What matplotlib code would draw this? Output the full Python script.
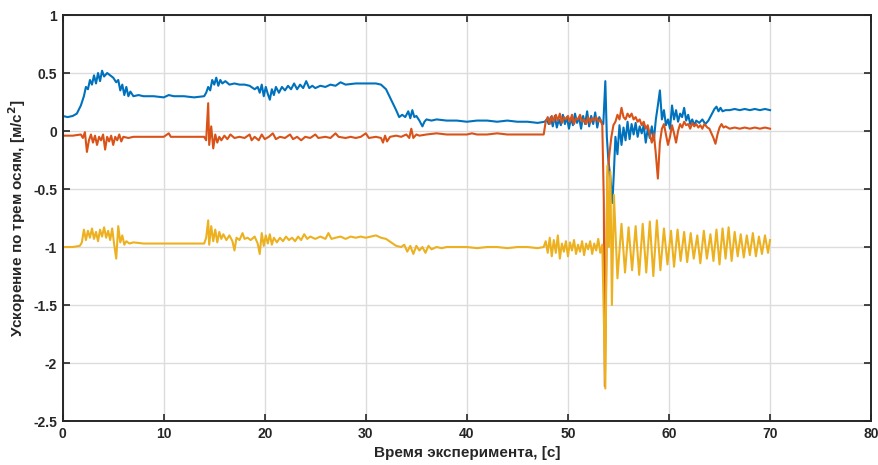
import numpy as np
import matplotlib
matplotlib.use('Agg')
from matplotlib import pyplot as plt

plt.rcParams['font.family'] = ['Liberation Sans', 'DejaVu Sans']
plt.rcParams['axes.unicode_minus'] = False

# Ось X (синяя)
t_x = [0.0, 0.5, 1.0, 1.4, 1.8, 2.1, 2.3, 2.5, 2.7, 2.9, 3.1, 3.3, 3.5, 3.7, 3.9,
       4.1, 4.4, 4.7, 5.0, 5.3, 5.5, 5.7, 5.9, 6.1, 6.3, 6.5, 6.7, 7.0, 7.5, 8.0,
       9.0, 10.0, 10.5, 11.0, 12.0, 13.0, 14.0, 14.2, 14.4, 14.6, 14.8, 15.0, 15.2,
       15.4, 15.6, 15.8, 16.1, 16.5, 17.0, 17.5, 18.0, 18.5, 19.0, 19.3, 19.5, 19.7,
       19.9, 20.1, 20.3, 20.5, 20.7, 20.9, 21.1, 21.4, 21.7, 22.0, 22.3, 22.6, 22.9,
       23.2, 23.5, 23.8, 24.1, 24.4, 24.7, 25.0, 25.5, 26.0, 26.5, 27.0, 27.5, 28.0,
       29.0, 30.0, 31.0, 31.5, 32.0, 32.5, 33.0, 33.3, 33.6, 33.9, 34.2, 34.4, 34.6,
       34.8, 35.0, 35.3, 35.6, 35.8, 36.0, 36.5, 37.0, 38.0, 39.0, 40.0, 41.0, 42.0,
       43.0, 44.0, 45.0, 46.0, 47.0, 47.7, 47.9, 48.1, 48.3, 48.5, 48.7, 48.9, 49.1,
       49.3, 49.5, 49.7, 49.9, 50.1, 50.3, 50.5, 50.7, 50.9, 51.1, 51.3, 51.5, 51.7,
       51.9, 52.1, 52.3, 52.5, 52.7, 52.9, 53.1, 53.3, 53.5, 53.7, 53.85, 54.0, 54.2,
       54.4, 54.55, 54.7, 54.9, 55.1, 55.3, 55.5, 55.7, 55.9, 56.1, 56.3, 56.5, 56.7,
       56.9, 57.1, 57.3, 57.5, 57.7, 57.9, 58.1, 58.3, 58.5, 58.7, 58.9, 59.1, 59.3,
       59.5, 59.7, 59.9, 60.1, 60.3, 60.5, 60.7, 60.9, 61.1, 61.3, 61.5, 61.7, 61.9,
       62.1, 62.3, 62.5, 62.7, 63.0, 63.3, 63.6, 63.9, 64.2, 64.5, 64.7, 64.9, 65.1,
       65.3, 65.6, 66.0, 66.5, 67.0, 67.5, 68.0, 68.5, 69.0, 69.5, 70.0]
acc_x = [0.13, 0.12, 0.13, 0.15, 0.22, 0.30, 0.38, 0.36, 0.44, 0.40, 0.48, 0.41, 0.50, 0.43, 0.52,
         0.47, 0.50, 0.48, 0.46, 0.42, 0.44, 0.35, 0.40, 0.31, 0.38, 0.30, 0.34, 0.30, 0.31, 0.30,
         0.30, 0.29, 0.31, 0.30, 0.30, 0.29, 0.30, 0.33, 0.38, 0.35, 0.44, 0.40, 0.46,
         0.39, 0.44, 0.41, 0.43, 0.40, 0.41, 0.40, 0.40, 0.39, 0.36, 0.38, 0.33, 0.40,
         0.30, 0.38, 0.32, 0.27, 0.36, 0.31, 0.38, 0.33, 0.38, 0.35, 0.39, 0.36, 0.41,
         0.36, 0.40, 0.37, 0.43, 0.37, 0.39, 0.37, 0.39, 0.38, 0.40, 0.39, 0.42, 0.40,
         0.41, 0.41, 0.41, 0.40, 0.36, 0.27, 0.18, 0.12, 0.14, 0.12, 0.17, 0.11, 0.18,
         0.12, 0.13, 0.09, 0.04, 0.08, 0.10, 0.09, 0.10, 0.09, 0.09, 0.08, 0.09, 0.09,
         0.08, 0.09, 0.08, 0.08, 0.07, 0.08, 0.10, 0.06, 0.12, 0.04, 0.13, 0.03, 0.10,
         0.05, 0.14, 0.06, 0.12, 0.02, 0.11, 0.05, 0.15, 0.07, 0.12, 0.02, 0.13, 0.06,
         0.17, 0.04, 0.13, 0.06, 0.16, 0.03, 0.12, 0.08, 0.06, 0.43, -0.05, -0.25, -0.40,
         -0.62, -0.35, -0.05, -0.20, 0.05, -0.12, 0.03, -0.08, 0.08, -0.07, 0.06, -0.03, 0.07,
         -0.05, 0.04, -0.02, 0.05, -0.10, 0.02, -0.06, 0.04, -0.08, 0.10, 0.22, 0.35, 0.10,
         0.18, 0.05, 0.10, 0.02, 0.22, 0.10, 0.18, 0.08, 0.15, 0.12, 0.20, 0.09, 0.14,
         0.06, 0.10, 0.05, 0.09, 0.07, 0.10, 0.06, 0.09, 0.14, 0.19, 0.21, 0.17, 0.20,
         0.17, 0.18, 0.18, 0.19, 0.18, 0.19, 0.18, 0.19, 0.18, 0.19, 0.18]

# Ось Y (оранжевая)
t_y = [0.0, 1.0, 1.8, 2.0, 2.2, 2.4, 2.6, 2.8, 3.0, 3.2, 3.4, 3.6, 3.8, 4.0, 4.2,
       4.4, 4.6, 4.8, 5.0, 5.2, 5.4, 5.6, 5.8, 6.0, 6.5, 7.0, 8.0, 9.0, 10.0, 10.5,
       10.7, 12.0, 13.0, 14.0, 14.2, 14.4, 14.5, 14.7, 14.9, 15.1, 15.3, 15.5, 15.7,
       16.0, 16.3, 16.6, 17.0, 17.5, 18.0, 18.5, 18.7, 19.0, 19.4, 19.7, 20.0, 20.4,
       20.8, 21.1, 21.5, 22.0, 22.5, 22.8, 23.2, 23.6, 24.0, 24.5, 25.0, 25.3, 26.0,
       26.5, 27.0, 27.3, 28.0, 28.5, 29.0, 29.5, 30.0, 30.3, 31.0, 31.5, 31.7, 31.9,
       32.1, 32.4, 33.0, 33.5, 34.0, 34.3, 34.5, 34.7, 35.0, 35.3, 36.0, 37.0, 38.0,
       39.0, 40.0, 40.5, 41.0, 42.0, 43.0, 44.0, 45.0, 46.0, 47.0, 47.6, 47.8, 48.0,
       48.2, 48.4, 48.6, 48.8, 49.0, 49.2, 49.4, 49.6, 49.8, 50.0, 50.2, 50.4, 50.6,
       50.8, 51.0, 51.2, 51.4, 51.6, 51.8, 52.0, 52.2, 52.4, 52.6, 52.8, 53.0, 53.2,
       53.4, 53.55, 53.65, 53.75, 53.9, 54.1, 54.3, 54.5, 54.7, 54.9, 55.1, 55.3, 55.5,
       55.7, 55.9, 56.1, 56.3, 56.5, 56.7, 56.9, 57.1, 57.3, 57.5, 57.7, 57.9, 58.1,
       58.3, 58.5, 58.7, 58.9, 59.1, 59.3, 59.5, 59.7, 59.9, 60.1, 60.3, 60.5, 60.7,
       60.9, 61.1, 61.3, 61.5, 61.7, 61.9, 62.1, 62.3, 62.5, 62.7, 62.9, 63.1, 63.3,
       63.5, 63.8, 64.0, 64.2, 64.4, 64.6, 64.8, 65.0, 65.2, 65.4, 65.6, 66.0, 66.5,
       67.0, 67.5, 68.0, 68.5, 69.0, 69.5, 70.0]
acc_y = [-0.04, -0.04, -0.03, -0.06, -0.01, -0.18, -0.08, -0.03, -0.10, -0.04, -0.12, -0.05, -0.08, -0.03, -0.16,
         -0.05, -0.09, -0.04, -0.12, -0.05, -0.08, -0.03, -0.09, -0.05, -0.06, -0.05, -0.05, -0.05, -0.05, -0.02,
         -0.05, -0.05, -0.05, -0.05, -0.08, 0.24, -0.12, 0.04, -0.15, -0.03, -0.10, -0.05, -0.08,
         -0.04, -0.07, -0.03, -0.06, -0.05, -0.06, -0.03, -0.08, -0.05, -0.08, -0.03, -0.07, -0.05,
         -0.02, -0.07, -0.05, -0.06, -0.03, -0.07, -0.05, -0.08, -0.05, -0.06, -0.03, -0.06, -0.05,
         -0.06, -0.02, -0.05, -0.06, -0.05, -0.06, -0.05, -0.02, -0.06, -0.05, -0.06, -0.10, -0.04,
         -0.09, -0.05, -0.04, -0.05, -0.03, -0.06, 0.02, -0.06, -0.03, -0.04, -0.03, -0.02, -0.03,
         -0.03, -0.03, -0.02, -0.03, -0.03, -0.02, -0.03, -0.03, -0.03, -0.03, -0.03, 0.08, 0.12,
         0.06, 0.13, 0.08, 0.14, 0.09, 0.15, 0.07, 0.12, 0.10, 0.13, 0.08, 0.14, 0.06,
         0.11, 0.10, 0.14, 0.08, 0.10, 0.06, 0.12, 0.07, 0.11, 0.09, 0.12, 0.08, 0.10,
         0.05, -0.60, -2.20, -1.50, -0.40, -0.20, -0.05, 0.05, 0.08, 0.14, 0.10, 0.20, 0.12,
         0.10, 0.15, 0.12, 0.15, 0.10, 0.12, 0.08, 0.10, 0.05, 0.08, 0.02, 0.05, -0.03,
         -0.10, -0.02, -0.20, -0.41, -0.10, 0.02, 0.06, -0.03, -0.12, -0.05, 0.05, -0.02, -0.10,
         0.00, 0.06, 0.03, 0.08, 0.05, 0.06, 0.02, 0.07, 0.04, 0.06, 0.03, 0.05, 0.02,
         0.06, 0.03, 0.02, -0.02, -0.06, -0.11, -0.03, 0.03, 0.06, 0.03, 0.04, 0.02, 0.03,
         0.02, 0.03, 0.02, 0.03, 0.02, 0.03, 0.02]

# Ось Z (жёлтая)
t_z = [0.0, 1.0, 1.7, 1.9, 2.1, 2.3, 2.5, 2.7, 2.9, 3.1, 3.3, 3.5, 3.7, 3.9, 4.1,
       4.3, 4.5, 4.7, 4.9, 5.1, 5.3, 5.5, 5.7, 5.9, 6.1, 6.3, 6.6, 7.0, 8.0, 9.0,
       10.0, 11.0, 12.0, 13.0, 14.0, 14.2, 14.4, 14.5, 14.7, 14.9, 15.1, 15.3, 15.5,
       15.7, 15.9, 16.2, 16.5, 16.8, 17.0, 17.2, 17.5, 17.8, 18.0, 18.3, 18.6, 19.0,
       19.3, 19.5, 19.7, 19.9, 20.1, 20.3, 20.5, 20.7, 20.9, 21.2, 21.5, 21.8, 22.1,
       22.4, 22.7, 23.0, 23.3, 23.6, 23.9, 24.2, 24.5, 25.0, 25.5, 26.0, 26.3, 26.6,
       27.0, 27.5, 28.0, 28.5, 29.0, 29.5, 30.0, 30.5, 31.0, 31.5, 32.0, 32.5, 33.0,
       33.5, 33.8, 34.1, 34.4, 34.7, 35.0, 35.3, 35.6, 35.9, 36.2, 36.5, 37.0, 37.5,
       38.0, 39.0, 40.0, 41.0, 42.0, 43.0, 44.0, 45.0, 46.0, 47.0, 47.6, 47.8, 48.0,
       48.2, 48.4, 48.6, 48.8, 49.0, 49.2, 49.4, 49.6, 49.8, 50.0, 50.2, 50.4, 50.6,
       50.8, 51.0, 51.2, 51.4, 51.6, 51.8, 52.0, 52.2, 52.4, 52.6, 52.8, 53.0, 53.2,
       53.4, 53.55, 53.7, 53.8, 53.9, 54.05, 54.2, 54.35, 54.55, 54.9, 55.3, 55.65, 56.0,
       56.35, 56.7, 57.05, 57.4, 57.75, 58.1, 58.45, 58.8, 59.15, 59.5, 59.85, 60.2, 60.5,
       60.85, 61.15, 61.5, 61.8, 62.15, 62.45, 62.8, 63.1, 63.45, 63.75, 64.1, 64.4, 64.7,
       65.0, 65.3, 65.6, 65.9, 66.2, 66.5, 66.8, 67.1, 67.4, 67.7, 68.0, 68.3, 68.6,
       68.9, 69.2, 69.5, 69.8, 70.0]
acc_z = [-1.00, -1.00, -0.99, -0.96, -0.85, -0.94, -0.86, -0.92, -0.84, -0.93, -0.87, -0.95, -0.85, -0.91, -0.83,
         -0.92, -0.86, -0.94, -0.84, -0.98, -1.10, -0.82, -0.96, -0.90, -0.98, -0.95, -0.97, -0.96, -0.97, -0.97,
         -0.97, -0.97, -0.97, -0.97, -0.97, -0.92, -0.77, -0.98, -0.82, -0.95, -0.85, -0.96, -0.87,
         -0.93, -0.89, -0.94, -0.90, -0.95, -1.03, -0.92, -0.94, -0.88, -0.93, -0.92, -0.94, -0.91,
         -0.97, -1.06, -0.88, -0.99, -0.90, -0.97, -0.89, -0.98, -0.92, -0.96, -0.92, -0.95, -0.91,
         -0.94, -0.92, -0.95, -0.91, -0.94, -0.89, -0.93, -0.91, -0.93, -0.91, -0.93, -0.88, -0.93,
         -0.92, -0.91, -0.93, -0.91, -0.92, -0.91, -0.92, -0.91, -0.90, -0.92, -0.93, -0.96, -0.99,
         -1.00, -0.98, -1.04, -0.99, -1.06, -0.99, -1.03, -1.00, -1.05, -0.99, -1.02, -1.00, -1.01,
         -1.00, -1.00, -1.00, -1.01, -1.00, -1.00, -1.01, -1.00, -1.00, -1.01, -1.00, -0.95, -1.05,
         -0.92, -1.08, -0.94, -1.05, -0.90, -1.10, -0.97, -1.04, -0.95, -1.08, -0.96, -1.03, -0.94,
         -1.06, -0.98, -1.04, -0.95, -1.07, -0.97, -1.02, -0.95, -1.06, -0.97, -1.03, -0.93, -1.05,
         -0.98, -1.60, -2.22, -1.20, -0.30, -1.00, -0.35, -1.50, -0.55, -1.27, -0.80, -1.22, -0.83,
         -1.20, -0.82, -1.24, -0.80, -1.22, -0.78, -1.25, -0.77, -1.20, -0.84, -1.15, -0.86, -1.17,
         -0.85, -1.12, -0.87, -1.13, -0.88, -1.10, -0.90, -1.14, -0.86, -1.10, -0.89, -1.12, -0.85,
         -1.15, -0.84, -1.10, -0.83, -1.12, -0.87, -1.08, -0.89, -1.09, -0.90, -1.07, -0.88, -1.08,
         -0.91, -1.06, -0.90, -1.05, -0.94]

x_ticks = [0, 10, 20, 30, 40, 50, 60, 70, 80]
y_ticks = [-2.5, -2, -1.5, -1, -0.5, 0, 0.5, 1]
y_tick_labels = ['-2.5', '-2', '-1.5', '-1', '-0.5', '0', '0.5', '1']

fig = plt.figure(figsize=(8.79, 4.65), dpi=100)
ax = fig.add_axes([0.0713, 0.0946, 0.9197, 0.8731])

lw = 1.5
ax.plot(t_x, acc_x, color='#0072BD', lw=lw)
ax.plot(t_y, acc_y, color='#D95319', lw=lw)
ax.plot(t_z, acc_z, color='#EDB120', lw=lw)

ax.set_xlim(0, 80)
ax.set_ylim(-2.5, 1)
ax.set_xticks(x_ticks)
ax.set_yticks(y_ticks)
ax.set_yticklabels(y_tick_labels)
ax.grid(True, color='#dcdcdc', lw=1.0)
ax.set_axisbelow(True)
ax.tick_params(direction='in', top=True, right=True, length=5, width=1.2,
               colors='#262626', labelsize=10, pad=4)
for lab in ax.get_xticklabels() + ax.get_yticklabels():
    lab.set_fontweight('bold')
for s in ax.spines.values():
    s.set_color('#262626')
    s.set_linewidth(1.4)

ax.set_xlabel('Время эксперимента, [с]', fontsize=11, fontweight='bold',
              color='#262626', labelpad=4)
ax.set_ylabel('Ускорение по трем осям, [м/с$^\\mathbf{2}$]', fontsize=11,
              fontweight='bold', color='#262626', labelpad=4)

fig.savefig('out.png', dpi=100)
